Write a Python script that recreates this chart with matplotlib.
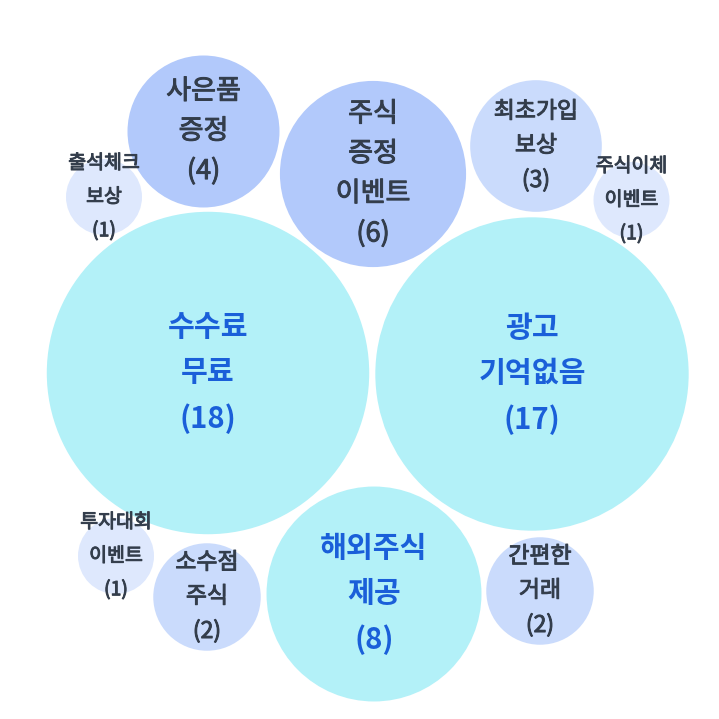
import numpy as np
import matplotlib
matplotlib.use("Agg")
import matplotlib.pyplot as plt
from matplotlib.patches import Circle
import matplotlib.patheffects as pe

plt.rcParams['font.family'] = ['Noto Sans CJK KR', 'DejaVu Sans']

# 응답 항목과 응답 수
labels = ["수수료\n무료", "광고\n기억없음", "해외주식\n제공", "사은품\n증정", "주식\n증정\n이벤트",
          "최초가입\n보상", "주식이체\n이벤트", "출석체크\n보상", "투자대회\n이벤트",
          "소수점\n주식", "간편한\n거래"]
counts = [18, 17, 8, 4, 6, 3, 1, 1, 1, 2, 2]

# 버블 배치 (packed layout 중심 좌표)
pos_x = [208, 532, 374, 203.5, 373, 536, 631.5, 104, 116, 207, 540]
pos_y = [373, 374, 594, 131.5, 174, 146, 200, 197, 556, 597, 591]

UNIT = 38.0  # 반지름 = UNIT * sqrt(count)


def style_for(v):
    # (채움색, 글자색, 글자크기pt, 굵기, 줄간격)
    if v >= 8:
        return "#b3f1f8", "#1a5fd9", 21, "bold", 1.63
    if v >= 4:
        return "#b2c9fb", "#333d4b", 19.5, "normal", 1.61
    if v >= 2:
        return "#cadbfc", "#333d4b", 16.5, "normal", 1.61
    return "#dee8fd", "#333d4b", 14, "normal", 1.8


fig = plt.figure(figsize=(7.19, 7.19), dpi=100)
ax = fig.add_axes([0, 0, 1, 1])
ax.set_xlim(0, 719)
ax.set_ylim(719, 0)
ax.set_aspect("equal")
ax.axis("off")

for lab, v, x, y in zip(labels, counts, pos_x, pos_y):
    fc, tc, fs, fw, ls = style_for(v)
    r = UNIT * np.sqrt(v)
    ax.add_patch(Circle((x, y), r, facecolor=fc, edgecolor="none"))
    t = ax.text(x, y, "%s\n(%d)" % (lab, v), ha="center", va="center",
                multialignment="center", color=tc, fontsize=fs,
                fontweight=fw, linespacing=ls)
    if fw == "normal":
        # 중간 굵기 느낌
        t.set_path_effects([pe.withStroke(linewidth=0.7, foreground=tc)])

fig.savefig("out.png", dpi=100, facecolor="white")
